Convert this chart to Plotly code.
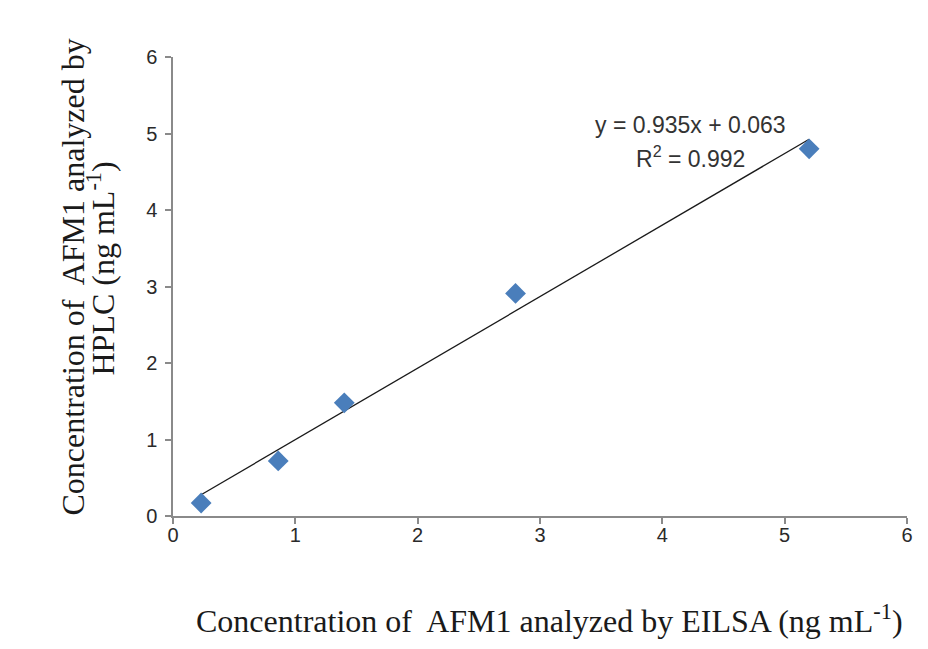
import plotly.graph_objects as go

# Data
elisa = [0.23, 0.86, 1.40, 2.80, 5.20]
hplc = [0.17, 0.72, 1.48, 2.91, 4.80]
slope = 0.935
intercept = 0.063
r2 = 0.992
x_ticks = [0, 1, 2, 3, 4, 5, 6]
y_ticks = [0, 1, 2, 3, 4, 5, 6]

x_line = [min(elisa), max(elisa)]
y_line = [slope * v + intercept for v in x_line]

fig = go.Figure()
fig.add_trace(go.Scatter(x=x_line, y=y_line, mode="lines",
                         line=dict(color="#1a1a1a", width=1.3),
                         showlegend=False, hoverinfo="skip"))
fig.add_trace(go.Scatter(x=elisa, y=hplc, mode="markers",
                         marker=dict(symbol="diamond", size=16, color="#4a7ebb",
                                     line=dict(width=0)),
                         showlegend=False))

tick_font = dict(family="Liberation Sans, Arial", size=20, color="#2a2a2a")
axis_common = dict(range=[0, 6], showgrid=False, zeroline=False,
                   showline=True, linecolor="#8a8a8a", linewidth=1.5,
                   ticks="outside", ticklen=6, tickcolor="#8a8a8a", tickwidth=1.5,
                   tickfont=tick_font, ticklabeloverflow="allow")

fig.update_xaxes(**axis_common, tickvals=x_ticks, ticklabelstandoff=-6)
fig.update_yaxes(**axis_common, tickvals=y_ticks, ticklabelstandoff=4)

ann_font = dict(family="Liberation Sans, Arial", size=23, color="#333333")
fig.add_annotation(x=4.23, y=5.11, xref="x", yref="y",
                   text=f"y = {slope}x + {intercept}", showarrow=False, font=ann_font)
fig.add_annotation(x=4.23, y=4.69, xref="x", yref="y",
                   text=f"R<sup>2</sup> = {r2}", showarrow=False, font=ann_font)

title_font = dict(family="Liberation Serif, Times New Roman", size=32, color="#1a1a1a")
fig.add_annotation(x=0.513, y=0, xref="paper", yref="paper",
                   yshift=-125, yanchor="bottom", xanchor="center",
                   text="Concentration of  AFM1 analyzed by EILSA (ng mL<sup>-1</sup>)",
                   showarrow=False, font=title_font)
fig.add_annotation(x=0, y=0.5, xref="paper", yref="paper",
                   xshift=-101, yshift=9, xanchor="center", yanchor="middle",
                   textangle=-90,
                   text="Concentration of  AFM1 analyzed by",
                   showarrow=False, font=title_font)
fig.add_annotation(x=0, y=0.5, xref="paper", yref="paper",
                   xshift=-73, yshift=18, xanchor="center", yanchor="middle",
                   textangle=-90,
                   text="HPLC (ng mL<sup>-1</sup>)",
                   showarrow=False, font=title_font)

fig.update_layout(width=912, height=633,
                  margin=dict(l=165, r=7, t=49, b=125),
                  paper_bgcolor="white", plot_bgcolor="white")

fig.write_html("out.html", config={"displayModeBar": False})
